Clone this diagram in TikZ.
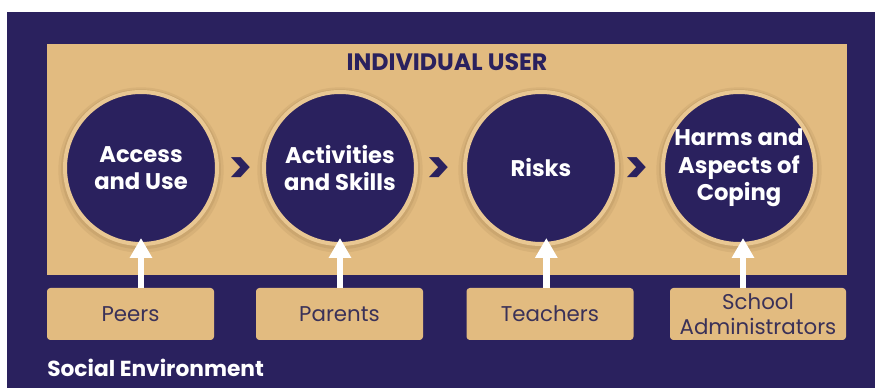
\documentclass[tikz,border=0pt]{standalone}
\usepackage{fontspec}
\setmainfont{Poppins}
\usetikzlibrary{arrows.meta}
\usetikzlibrary{calc}
\definecolor{navy}{RGB}{42,33,94}
\definecolor{sand}{RGB}{226,187,128}
\definecolor{sandring}{RGB}{233,199,146}
\definecolor{sandshade}{RGB}{170,135,85}
\definecolor{boxtext}{RGB}{58,49,88}
\tikzset{
  stage/.style={circle, fill=navy, draw=sandring, line width=3pt, minimum size=114pt, inner sep=0pt,
    text=white, align=center, font=\bfseries\fontsize{17}{20.5}\selectfont,
    preaction={draw=sandshade, draw opacity=0.18, line width=10pt, transform canvas={yshift=-1.5pt}},
    preaction={draw=sandshade, draw opacity=0.25, line width=6pt, transform canvas={yshift=-1pt}}},
  actor/.style={rectangle, rounded corners=2.5pt, fill=sand, text=boxtext, minimum width=125.25pt,
    minimum height=39pt, inner sep=0pt, align=center, font=\fontsize{16}{18.5}\selectfont},
  upline/.style={draw=white, line width=5pt, -{Triangle[width=16pt,length=15pt]}},
  chevron/.style={text=navy, inner sep=0pt, font=\bfseries\fontsize{34}{34}\selectfont}
}
\begin{document}
\begin{tikzpicture}[x=0.75pt,y=0.75pt,yscale=-1,xscale=1]

    \useasboundingbox (0,0) rectangle (875,388);
    \fill[white] (0,0) rectangle (875,388);
    %Shape: Rectangle [id:social]
    \fill[navy] (7,12) rectangle (875,388);
    %Shape: Rectangle [id:user]
    \node[fill=sand, minimum width=600pt, minimum height=173.25pt, inner sep=0pt] (user) at (447,159.5) {};
    \node[anchor=base, text=navy, font=\bfseries\fontsize{17.8}{17.8}\selectfont] (usertitle) at (447,71) {INDIVIDUAL USER};

    %Shape: Circle [id:access]
    \node[stage] (access) at (141,168) {Access\\and Use};
    %Shape: Circle [id:activities]
    \node[stage] (activities) at (340,168) {Activities\\and Skills};
    %Shape: Circle [id:risks]
    \node[stage] (risks) at (541,168) {Risks};
    %Shape: Circle [id:harms]
    \node[stage] (harms) at (739,168) {Harms and\\Aspects of\\Coping};

    %Text: chevrons
    \node[chevron] (gtA) at ($(access)!0.5!(activities)+(0,3)$) {>};
    \node[chevron] (gtB) at ($(activities)!0.5!(risks)+(-2,3)$) {>};
    \node[chevron] (gtC) at ($(risks)!0.5!(harms)+(-3,3)$) {>};

    %Shape: Rectangle [id:boxes]
    \node[actor] (peers) at (130.5,314) {Peers};
    \node[actor] (parents) at (339.5,314) {Parents};
    \node[actor] (teachers) at (550,314) {Teachers};
    \node[actor, minimum width=132pt] (admins) at (758,314) {School\\Administrators};

    %Straight Lines [id:arrows]
    \draw[upline] (peers.north -| access) -- ([yshift=-6pt]access.south);
    \draw[upline] (parents.north -| activities) -- ([yshift=-6pt]activities.south);
    \draw[upline] ([xshift=4pt]teachers.north -| risks) -- ([xshift=4pt,yshift=-6pt]risks.south);
    \draw[upline] ([xshift=3pt]admins.north -| harms) -- ([xshift=3pt,yshift=-6pt]harms.south);

    \node[anchor=base west, inner sep=0pt, text=white, font=\bfseries\fontsize{16.3}{16.3}\selectfont] (socialtitle) at (47,377) {Social Environment};

\end{tikzpicture}
\end{document}
